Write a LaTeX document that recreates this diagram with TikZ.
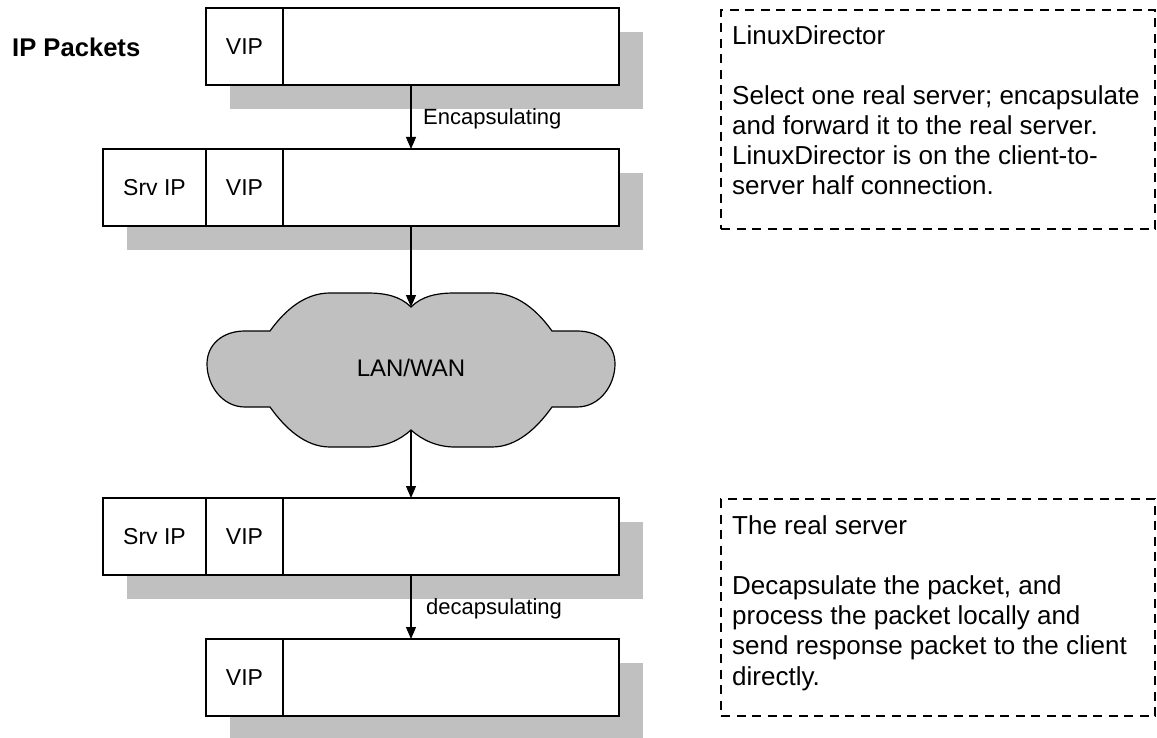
\documentclass[tikz,border=0pt]{standalone}
\usepackage{fontspec}
\setmainfont{Liberation Sans}
\usetikzlibrary{arrows.meta,shadows}
\definecolor{shgray}{HTML}{C0C0C0}
\begin{document}
\begin{tikzpicture}[x=1pt,y=-1pt,
  packet/.style={draw, line width=1.2pt, fill=white, inner sep=0pt, outer sep=0pt, minimum height=77pt,
    drop shadow={shadow xshift=24pt, shadow yshift=-24pt, fill=shgray, opacity=1}},
  cell/.style={draw, line width=1.2pt, inner sep=0pt, outer sep=0pt, minimum height=77pt, font=\fontsize{23}{27}\selectfont},
  arr/.style={line width=1.2pt, -{Triangle[length=12pt,width=10pt]}},
  lbl/.style={anchor=base west, inner sep=0pt, font=\fontsize{22}{26}\selectfont},
  dashbox/.style={draw, line width=1.3pt, dash pattern=on 9pt off 6.5pt, inner sep=0pt},
  note/.style={anchor=north west, inner sep=0pt, align=left, font=\fontsize{26}{30.2}\selectfont}
]
\useasboundingbox (0,0) rectangle (1157,738);

% label
\node[anchor=west, inner sep=0pt, font=\bfseries\fontsize{25.6}{30}\selectfont] (ipp) at (12,47) {IP Packets};

% packet 1
\node[packet, minimum width=413pt] (p1) at (412.5,46.5) {};
\node[cell, minimum width=77pt] (v1) at (244.5,46.5) {VIP};

% packet 2
\node[packet, minimum width=516pt] (p2) at (361,187.5) {};
\node[cell, minimum width=103pt] (s2) at (154.5,187.5) {Srv IP\hspace{15pt}};
\node[cell, minimum width=77pt] (v2) at (244.5,187.5) {VIP};

% cloud
\draw[line width=1.2pt, fill=shgray] (411,307) .. controls (400,296) and (385,293) .. (367,293) -- (330,293)
  .. controls (305,293) and (285,310) .. (270,331) -- (245,331)
  .. controls (222,331) and (207,345) .. (207,364)
  .. controls (207,385) and (222,407) .. (245,407) -- (270,407)
  .. controls (285,428) and (305,447) .. (330,447) -- (367,447)
  .. controls (385,447) and (400,440) .. (411,430)
  .. controls (422,440) and (437,447) .. (455,447) -- (492,447)
  .. controls (517,447) and (537,428) .. (552,407) -- (577,407)
  .. controls (600,407) and (615,385) .. (615,364)
  .. controls (615,345) and (600,331) .. (577,331) -- (552,331)
  .. controls (537,310) and (517,293) .. (492,293) -- (455,293)
  .. controls (437,293) and (422,296) .. (411,307) -- cycle;
\coordinate (ctop) at (411,307);
\coordinate (cbot) at (411,430);
\node[anchor=base, inner sep=0pt, font=\fontsize{24}{28}\selectfont] (lan) at (411,376.6) {LAN/WAN};

% packet 3
\node[packet, minimum width=516pt] (p3) at (361,536.5) {};
\node[cell, minimum width=103pt] (s3) at (154.5,536.5) {Srv IP\hspace{15pt}};
\node[cell, minimum width=77pt] (v3) at (244.5,536.5) {VIP};

% packet 4
\node[packet, minimum width=413pt] (p4) at (412.5,677.5) {};
\node[cell, minimum width=77pt] (v4) at (244.5,677.5) {VIP};

% arrows
\draw[arr] (p1.south -| ctop) -- (p2.north -| ctop);
\draw[arr] (p2.south -| ctop) -- (ctop);
\draw[arr] (cbot) -- (p3.north -| cbot);
\draw[arr] (p3.south -| cbot) -- (p4.north -| cbot);
\node[lbl] (enc) at (423,124.9) {Encapsulating};
\node[lbl] (dec) at (426,614.9) {decapsulating};

% notes
\node[dashbox, minimum width=434pt, minimum height=219pt] (ld) at (938,119.5) {};
\node[note] (ldt) at (732,22.95) {\strut LinuxDirector\\[29.8pt]Select one real server; encapsulate\\and forward it to the real server.\\LinuxDirector is on the client-to-\\server half connection.};
\node[dashbox, minimum width=434pt, minimum height=217pt] (rs) at (938,607.5) {};
\node[note] (rst) at (732,513.2) {\strut The real server\\[29.8pt]Decapsulate the packet, and\\process the packet locally and\\send response packet to the client\\directly.};
\end{tikzpicture}
\end{document}
